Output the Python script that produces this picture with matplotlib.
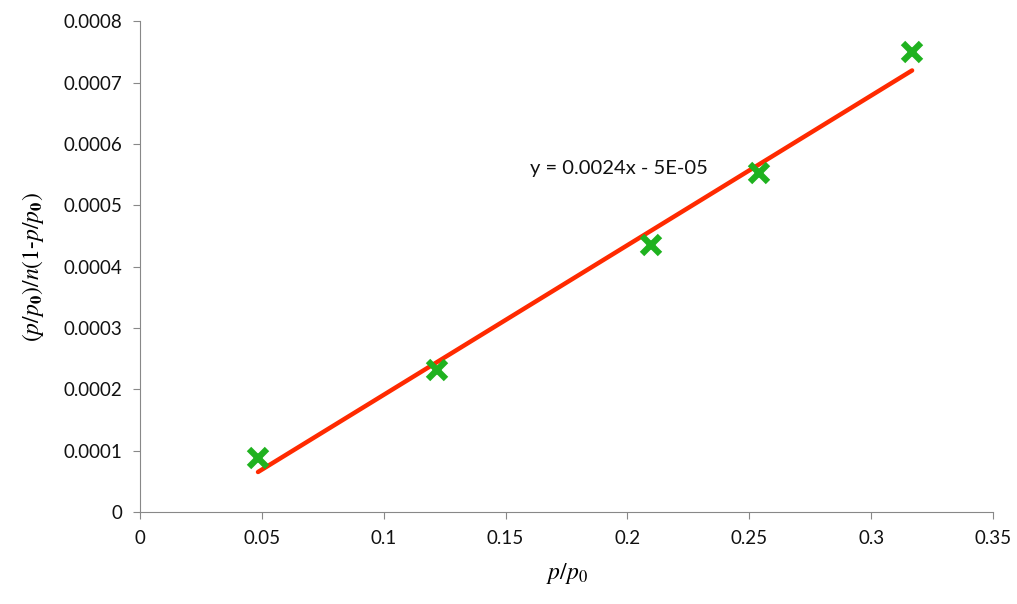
import numpy as np
import matplotlib.pyplot as plt

# relative pressure p/p0 and BET term (p/p0)/n(1-p/p0)
rel_p = [0.0484, 0.1217, 0.2098, 0.2541, 0.3168]
bet_y = [0.000088, 0.000231, 0.000435, 0.000552, 0.000749]

x_ticks = [0, 0.05, 0.1, 0.15, 0.2, 0.25, 0.3, 0.35]
x_labels = ['0', '0.05', '0.1', '0.15', '0.2', '0.25', '0.3', '0.35']
y_ticks = [0, 0.0001, 0.0002, 0.0003, 0.0004, 0.0005, 0.0006, 0.0007, 0.0008]
y_labels = ['0', '0.0001', '0.0002', '0.0003', '0.0004', '0.0005', '0.0006', '0.0007', '0.0008']

plt.rcParams['font.family'] = ['Lato', 'DejaVu Sans']
plt.rcParams['mathtext.fontset'] = 'stix'

fig = plt.figure(figsize=(10.17, 6.04), dpi=100)
ax = fig.add_axes([0.1377, 0.152, 0.8387, 0.813])

# linear trendline
slope, icpt = np.polyfit(rel_p, bet_y, 1)
xs = np.array([rel_p[0], rel_p[-1]])
ax.plot(xs, slope * xs + icpt, color='#ff2a00', linewidth=3.2, solid_capstyle='round', zorder=2)

ax.plot(rel_p, bet_y, linestyle='none', marker='x', markersize=13,
        markeredgewidth=4.5, color='#1fb21f', zorder=3)

ax.text(0.16, 0.00056, 'y = 0.0024x - 5E-05', fontsize=14.5, va='center', ha='left', color='#111111')

ax.set_xlim(0, 0.35)
ax.set_ylim(0, 0.0008)
ax.set_xticks(x_ticks)
ax.set_xticklabels(x_labels)
ax.set_yticks(y_ticks)
ax.set_yticklabels(y_labels)
ax.tick_params(axis='both', labelsize=13.5, direction='out', length=5, color='#888888',
               labelcolor='#111111', pad=8)

for side in ['top', 'right']:
    ax.spines[side].set_visible(False)
for side in ['left', 'bottom']:
    ax.spines[side].set_color('#888888')

ax.set_xlabel(r'$p/p_0$', fontsize=17, labelpad=10)
ax.set_ylabel(r'$(p/p_\mathbf{0})/n(1\text{-}p/p_\mathbf{0})$', fontsize=17, labelpad=12)

fig.savefig('out.png', dpi=100)
